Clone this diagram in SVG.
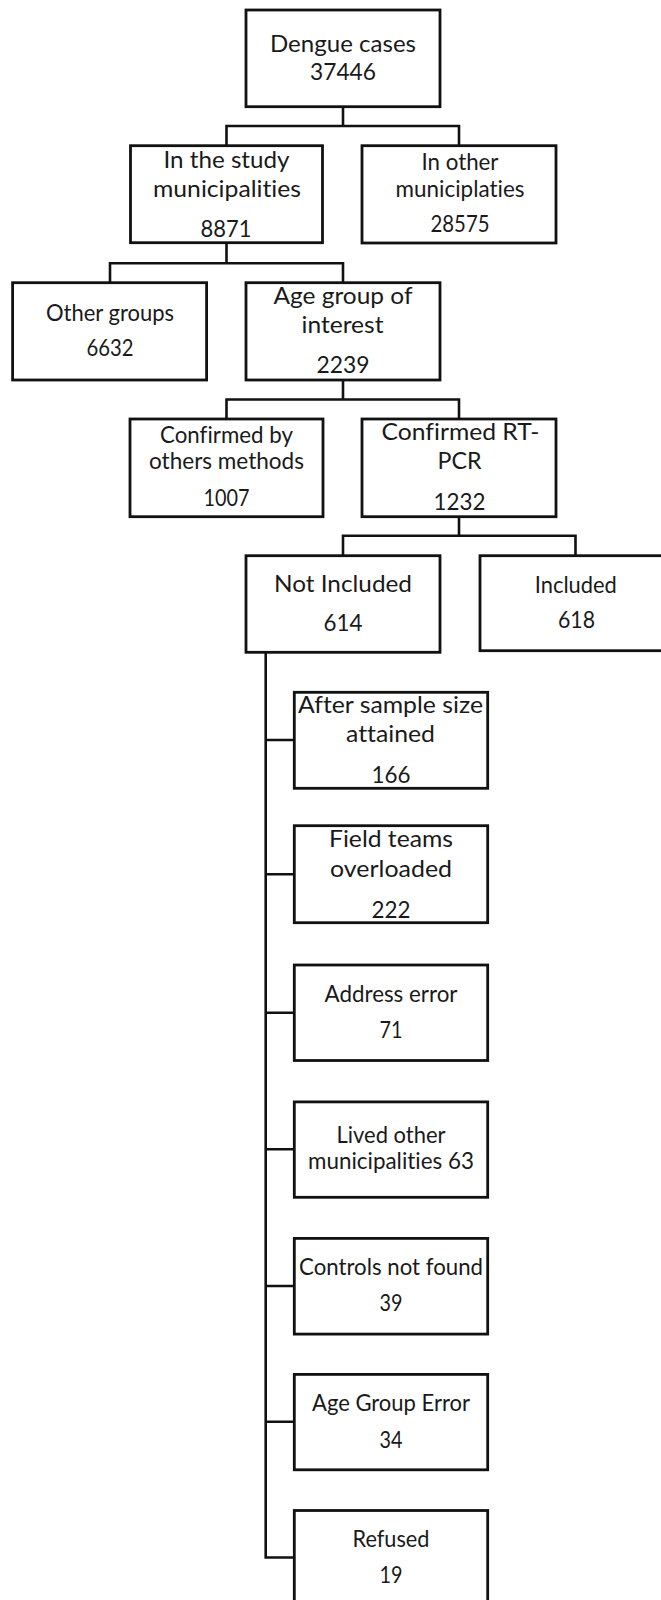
<svg xmlns="http://www.w3.org/2000/svg" width="661" height="1600" viewBox="0 0 661 1600">
<style>
.box{fill:#fff;stroke:#111;stroke-width:2.8}
.con{fill:none;stroke:#111;stroke-width:2.6}
.sq{fill:none;stroke:#c4c4c4;stroke-width:1;stroke-dasharray:2 1}
text{font-family:Lato,"Liberation Sans",Arial,sans-serif;font-size:24px;fill:#1a1a1a;text-anchor:middle;font-variant-ligatures:none;font-feature-settings:"liga" 0,"dlig" 0}
.sm{font-size:22.5px}
</style>
<rect width="661" height="1600" fill="#fff"/>
<g id="connectors">
<path class="con" d="M343,106.7V126M226.5,145.7V126H459V145.7"/>
<path class="con" d="M226.5,243V263.3M110,282.7V263.3H343V282.7"/>
<path class="con" d="M343,380V399.5M226.5,419V399.5H459V419"/>
<path class="con" d="M459,516.7V535.7M343,555.7V535.7H575.5V555.7"/>
<path class="con" d="M265.7,652.3V1557.5H294.3M265.7,740H294.3M265.7,874.3H294.3M265.7,1012.7H294.3M265.7,1149.3H294.3M265.7,1286H294.3M265.7,1421.8H294.3"/>
</g>
<g id="spellcheck">
<path class="sq" d="M188,171H225M151,200H302M421,174H498M403,200H524M45,324H175M272,307H413M302,336H384M161,447H293M146,473H305M382,443H494"/>
</g>
<g id="n-dengue">
<rect class="box" x="246" y="10" width="194" height="96.7"/>
<text x="343" y="51.7" textLength="146" lengthAdjust="spacingAndGlyphs">Dengue cases</text>
<text x="343" y="80" textLength="66" lengthAdjust="spacingAndGlyphs">37446</text>
</g>
<g id="n-study">
<rect class="box" x="130.5" y="145.7" width="192" height="97"/>
<text x="226.5" y="167.7" textLength="126" lengthAdjust="spacingAndGlyphs">In the study</text>
<text x="227" y="196.7" textLength="148" lengthAdjust="spacingAndGlyphs">municipalities</text>
<text x="226" y="237.3" textLength="51" lengthAdjust="spacingAndGlyphs">8871</text>
</g>
<g id="n-othermun">
<rect class="box" x="362" y="145.7" width="194" height="97.3"/>
<text class="sm" x="460" y="170" textLength="77" lengthAdjust="spacingAndGlyphs">In other</text>
<text class="sm" x="460" y="197" textLength="129" lengthAdjust="spacingAndGlyphs">municiplaties</text>
<text class="sm" x="460" y="232.3" textLength="59" lengthAdjust="spacingAndGlyphs">28575</text>
</g>
<g id="n-othergroups">
<rect class="box" x="12.6" y="282.7" width="194" height="97.3"/>
<text x="110" y="320.7" textLength="128" lengthAdjust="spacingAndGlyphs">Other groups</text>
<text x="110" y="356" textLength="47" lengthAdjust="spacingAndGlyphs">6632</text>
</g>
<g id="n-agegroup">
<rect class="box" x="246" y="282.7" width="194" height="97.3"/>
<text x="343" y="304" textLength="139" lengthAdjust="spacingAndGlyphs">Age group of</text>
<text x="342.5" y="332.7" textLength="82" lengthAdjust="spacingAndGlyphs">interest</text>
<text x="343" y="373.3" textLength="53" lengthAdjust="spacingAndGlyphs">2239</text>
</g>
<g id="n-confother">
<rect class="box" x="130" y="419" width="193" height="97.7"/>
<text x="226.5" y="443.3" textLength="133" lengthAdjust="spacingAndGlyphs">Confirmed by</text>
<text x="226.5" y="469.3" textLength="155" lengthAdjust="spacingAndGlyphs">others methods</text>
<text x="226.5" y="506" textLength="46" lengthAdjust="spacingAndGlyphs">1007</text>
</g>
<g id="n-confpcr">
<rect class="box" x="362" y="419" width="194" height="97.7"/>
<text x="460.5" y="440" textLength="158" lengthAdjust="spacingAndGlyphs">Confirmed RT-</text>
<text x="459.5" y="469.3" textLength="44" lengthAdjust="spacingAndGlyphs">PCR</text>
<text x="459.5" y="510" textLength="52" lengthAdjust="spacingAndGlyphs">1232</text>
</g>
<g id="n-notincluded">
<rect class="box" x="246" y="555.7" width="194" height="96.6"/>
<text x="343" y="591.7" textLength="138" lengthAdjust="spacingAndGlyphs">Not Included</text>
<text x="343" y="631" textLength="39" lengthAdjust="spacingAndGlyphs">614</text>
</g>
<g id="n-included">
<rect class="box" x="480" y="555.7" width="194" height="95"/>
<text x="575.8" y="592.7" textLength="82" lengthAdjust="spacingAndGlyphs">Included</text>
<text x="576.5" y="628.3" textLength="37" lengthAdjust="spacingAndGlyphs">618</text>
</g>
<g id="n-aftersample">
<rect class="box" x="294.3" y="692.3" width="193.4" height="96"/>
<text x="390.5" y="713.3" textLength="185" lengthAdjust="spacingAndGlyphs">After sample size</text>
<text x="390.5" y="741.7" textLength="89" lengthAdjust="spacingAndGlyphs">attained</text>
<text x="391" y="783.3" textLength="39" lengthAdjust="spacingAndGlyphs">166</text>
</g>
<g id="n-fieldteams">
<rect class="box" x="294.3" y="825.7" width="193.4" height="97"/>
<text x="391" y="846.7" textLength="124" lengthAdjust="spacingAndGlyphs">Field teams</text>
<text x="391" y="876.7" textLength="122" lengthAdjust="spacingAndGlyphs">overloaded</text>
<text x="391" y="917.7" textLength="39" lengthAdjust="spacingAndGlyphs">222</text>
</g>
<g id="n-address">
<rect class="box" x="294.3" y="965" width="193.4" height="95.5"/>
<text x="391" y="1001.7" textLength="133" lengthAdjust="spacingAndGlyphs">Address error</text>
<text x="391" y="1038.3" textLength="23" lengthAdjust="spacingAndGlyphs">71</text>
</g>
<g id="n-lived">
<rect class="box" x="294.3" y="1101.9" width="193.4" height="95.4"/>
<text x="391" y="1143" textLength="109" lengthAdjust="spacingAndGlyphs">Lived other</text>
<text x="391" y="1169.3" textLength="166" lengthAdjust="spacingAndGlyphs">municipalities 63</text>
</g>
<g id="n-controls">
<rect class="box" x="294.3" y="1238.4" width="193.4" height="95.7"/>
<text x="391" y="1274.5" textLength="184" lengthAdjust="spacingAndGlyphs">Controls not found</text>
<text x="391" y="1311.3" textLength="23" lengthAdjust="spacingAndGlyphs">39</text>
</g>
<g id="n-ageerror">
<rect class="box" x="294.3" y="1374.4" width="193.4" height="95.4"/>
<text x="391" y="1411.3" textLength="158" lengthAdjust="spacingAndGlyphs">Age Group Error</text>
<text x="391" y="1448.1" textLength="23" lengthAdjust="spacingAndGlyphs">34</text>
</g>
<g id="n-refused">
<rect class="box" x="294.3" y="1510.5" width="193.4" height="96"/>
<text x="391" y="1547.3" textLength="77" lengthAdjust="spacingAndGlyphs">Refused</text>
<text x="391" y="1583.3" textLength="23" lengthAdjust="spacingAndGlyphs">19</text>
</g>
</svg>
